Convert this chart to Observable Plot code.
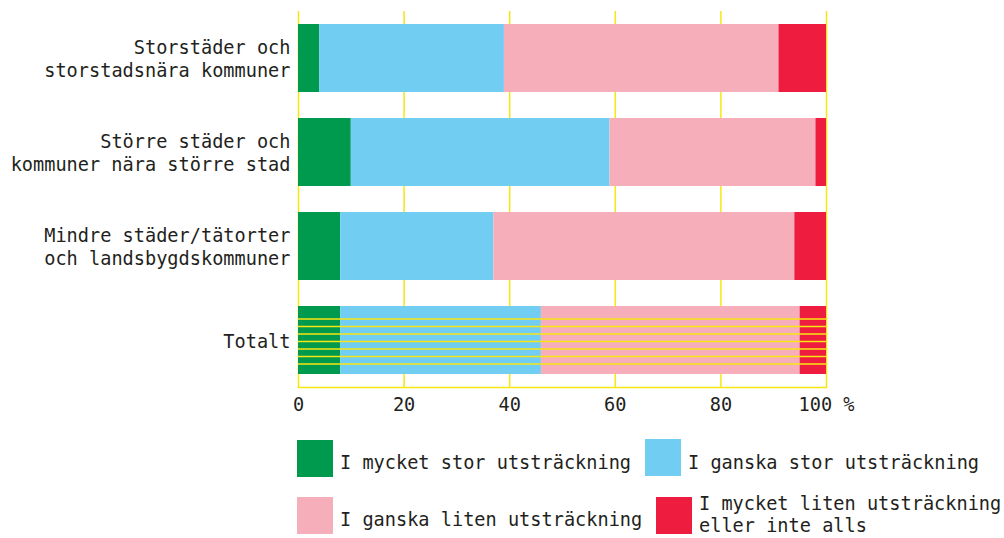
<!DOCTYPE html>
<html>
<head>
<meta charset="utf-8">
<script src="https://cdn.jsdelivr.net/npm/d3@7"></script>
<script src="https://cdn.jsdelivr.net/npm/@observablehq/plot@0.6"></script>
<style>
  body { margin: 0; background: #fff; }
  #wrap { position: relative; width: 1004px; height: 538px; font-family: "DejaVu Sans Mono", monospace; color: #231f20; }
  .sw { position: absolute; width: 36px; height: 37px; }
  .lt { position: absolute; font-size: 18.6px; line-height: 22px; white-space: nowrap; }
</style>
</head>
<body>
<div id="wrap"></div>
<script>
// ---- data ----
const categories = [
  "Storstäder och\nstorstadsnära kommuner",
  "Större städer och\nkommuner nära större stad",
  "Mindre städer/tätorter\noch landsbygdskommuner",
  "Totalt"
];
const series = [
  "I mycket stor utsträckning",
  "I ganska stor utsträckning",
  "I ganska liten utsträckning",
  "I mycket liten utsträckning eller inte alls"
];
const mycketStor  = [4, 10, 8, 8];
const ganskaStor  = [35, 49, 29, 38];
const ganskaLiten = [52, 39, 57, 49];
const mycketLiten = [9, 2, 6, 5];
const xTicks = [0, 20, 40, 60, 80, 100];

// ---- styles ----
const colors = ["#009a4e", "#72cdf2", "#f6afba", "#ee1c3f"];
const yellow = "#f7e612";
const stripeOffsets = [-21.5, -14, -6.5, 1, 8.5, 16, 23.5];

const seriesValues = [mycketStor, ganskaStor, ganskaLiten, mycketLiten];
const rows = [];
series.forEach((s, si) => {
  categories.forEach((c, ci) => rows.push({category: c, series: s, value: seriesValues[si][ci]}));
});

const chart = Plot.plot({
  width: 1004,
  height: 425,
  marginLeft: 298,
  marginRight: 178,
  marginTop: 11,
  marginBottom: 38,
  style: {fontFamily: "DejaVu Sans Mono, monospace", fontSize: "18.6px", color: "#231f20", background: "transparent"},
  x: {domain: [0, 100]},
  y: {domain: categories, paddingInner: 0.277, paddingOuter: 0.1385},
  color: {domain: series, range: colors},
  marks: [
    Plot.gridX(xTicks, {stroke: yellow, strokeOpacity: 1, strokeWidth: 1.5}),
    Plot.frame({anchor: "bottom", stroke: yellow, strokeWidth: 1.5}),
    Plot.barX(rows, {x: "value", y: "category", fill: "series"}),
    ...stripeOffsets.map(dy => Plot.ruleY(["Totalt"], {y: d => d, stroke: yellow, strokeWidth: 1.3, dy})),
    Plot.axisY({tickSize: 0, tickPadding: 8, lineHeight: 1.24, label: null}),
    Plot.axisX(xTicks, {tickSize: 0, tickPadding: 10, label: null, tickFormat: d => d === 100 ? "100 %" : String(d)})
  ]
});

const wrap = document.getElementById("wrap");
wrap.appendChild(chart);

// ---- legend (HTML) ----
const legendItems = [
  {sw: [297, 440], tx: [340, 452], text: series[0]},
  {sw: [645, 439], tx: [688, 452], text: series[1]},
  {sw: [297, 497], tx: [340, 509], text: series[2]},
  {sw: [656, 497], tx: [699, 493], text: "I mycket liten utsträckning<br>eller inte alls"}
];
legendItems.forEach((it, i) => {
  const sw = document.createElement("div");
  sw.className = "sw";
  sw.style.left = it.sw[0] + "px";
  sw.style.top = it.sw[1] + "px";
  sw.style.background = colors[i];
  wrap.appendChild(sw);
  const t = document.createElement("div");
  t.className = "lt";
  t.style.left = it.tx[0] + "px";
  t.style.top = it.tx[1] + "px";
  t.innerHTML = it.text;
  wrap.appendChild(t);
});
chart.style.position = "absolute";
chart.style.left = "0px";
chart.style.top = "0px";
</script>
</body>
</html>
